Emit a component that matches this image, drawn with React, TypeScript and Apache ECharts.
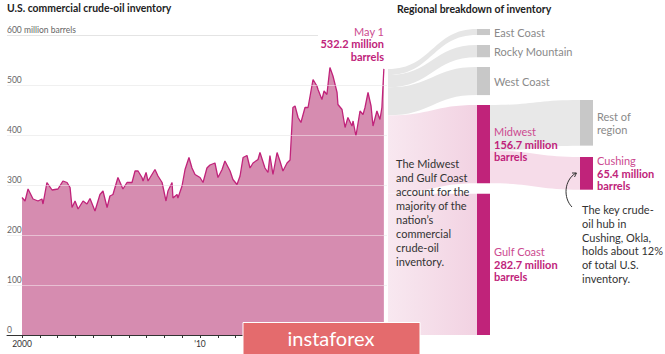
import React, { useEffect, useRef } from "react";
import * as echarts from "echarts";

// ---- Data ----
const years = [
  2000.0, 2000.17, 2000.34, 2000.62, 2000.9, 2001.12, 2001.18, 2001.4, 2001.69, 2002.02,
  2002.3, 2002.53, 2002.7, 2002.81, 2002.98, 2003.15, 2003.43, 2003.65, 2003.82, 2004.1,
  2004.38, 2004.55, 2004.78, 2004.94, 2005.11, 2005.39, 2005.67, 2005.9, 2006.18, 2006.35,
  2006.52, 2006.74, 2006.8, 2006.97, 2007.08, 2007.47, 2007.64, 2007.87, 2008.09, 2008.2,
  2008.43, 2008.48, 2008.71, 2008.76, 2008.99, 2009.16, 2009.38, 2009.55, 2009.72, 2010.0,
  2010.17, 2010.39, 2010.56, 2010.84, 2011.01, 2011.24, 2011.4, 2011.69, 2011.85, 2012.08,
  2012.25, 2012.42, 2012.64, 2012.81, 2012.98, 2013.26, 2013.37, 2013.65, 2013.82, 2013.93,
  2014.1, 2014.33, 2014.49, 2014.66, 2014.89, 2015.06, 2015.22, 2015.34, 2015.51, 2015.67,
  2015.9, 2016.07, 2016.35, 2016.57, 2016.63, 2016.85, 2016.97, 2017.13, 2017.3, 2017.47,
  2017.7, 2017.75, 2017.98, 2018.15, 2018.31, 2018.54, 2018.6, 2018.76, 2018.99, 2019.16,
  2019.27, 2019.44, 2019.61, 2019.72, 2019.94, 2020.11, 2020.22, 2020.33,
];
const inventory = [
  275, 268, 292, 272, 268, 272, 262, 305, 290, 292,
  308, 305, 295, 255, 268, 252, 268, 262, 273, 248,
  281, 288, 255, 278, 281, 315, 292, 305, 305, 328,
  328, 315, 308, 325, 308, 331, 318, 305, 268, 288,
  305, 274, 281, 274, 298, 331, 355, 334, 321, 315,
  305, 334, 340, 344, 315, 331, 348, 328, 311, 301,
  318, 355, 359, 334, 344, 351, 365, 334, 325, 359,
  321, 365, 348, 328, 344, 350, 455, 458, 435, 425,
  455, 455, 511, 498, 491, 471, 488, 481, 535, 518,
  485, 461, 451, 415, 435, 418, 428, 398, 448, 441,
  455, 485, 458, 418, 448, 431, 455, 532.2,
];
const yTicks = [0, 100, 200, 300, 400, 500, 600];
const xTickYears = [
  2000, 2001, 2002, 2003, 2004, 2005, 2006, 2007, 2008, 2009, 2010,
  2011, 2012, 2013, 2014, 2015, 2016, 2017, 2018, 2019, 2020,
];
const xLabelYears = [2000, 2010];

const totalName = "U.S.";
const regionNames = ["East Coast", "Rocky Mountain", "West Coast", "Midwest", "Gulf Coast"];
const regionValues = [12.1, 24.5, 56.2, 156.7, 282.7];
const midwestNames = ["Rest of region", "Cushing"];
const midwestValues = [91.3, 65.4];

const FONT = "Lato";
const MAGENTA = "#c0237a";
const PINK_TEXT = "#cc4a90";
const GRAY_NODE = "#c8c8c8";
const GRAY_FLOW = "#e6e6e6";

export default function App() {
  const ref = useRef<HTMLDivElement>(null);

  useEffect(() => {
    if (!ref.current) return;
    const chart = echarts.init(ref.current, undefined, { renderer: "svg" });

    const H = 306;
    const W = 218;
    const pos: Record<string, [number, number]> = {
      [totalName]: [0, 40],
      "East Coast": [102, 0],
      "Rocky Mountain": [102, 16],
      "West Coast": [102, 38],
      Midwest: [102, 76],
      "Gulf Coast": [102, 164.7],
      "Rest of region": [205, 71],
      Cushing: [205, 128],
    };
    const magentaNodes = ["Midwest", "Gulf Coast", "Cushing"];
    const richLabel = {
      n: { color: PINK_TEXT, fontSize: 11, fontFamily: FONT, lineHeight: 12.5 },
      v: { color: MAGENTA, fontSize: 11, fontWeight: "bold", fontFamily: FONT, lineHeight: 12.5 },
      g: { color: "#8a8a8a", fontSize: 11, fontFamily: FONT, lineHeight: 12.5 },
    };
    const labelFor = (name: string, value: number) => {
      if (magentaNodes.includes(name)) {
        return `{n|${name}}\n{v|${value} million}\n{v|barrels}`;
      }
      if (name === "Rest of region") return "{g|Rest of}\n{g|region}";
      return `{g|${name}}`;
    };

    const nodes: any[] = [];
    nodes.push({
      name: totalName,
      depth: 0,
      localX: pos[totalName][0] / W,
      localY: pos[totalName][1] / H,
      itemStyle: { color: "rgba(0,0,0,0)", borderWidth: 0 },
      label: { show: false },
    });
    regionNames.forEach((n, i) => {
      nodes.push({
        name: n,
        depth: 1,
        localX: pos[n][0] / W,
        localY: pos[n][1] / H,
        itemStyle: { color: magentaNodes.includes(n) ? MAGENTA : GRAY_NODE, borderWidth: 0 },
        label: { formatter: labelFor(n, regionValues[i]) },
      });
    });
    midwestNames.forEach((n, i) => {
      nodes.push({
        name: n,
        depth: 2,
        localX: pos[n][0] / W,
        localY: pos[n][1] / H,
        itemStyle: { color: magentaNodes.includes(n) ? MAGENTA : GRAY_NODE, borderWidth: 0 },
        label: { formatter: labelFor(n, midwestValues[i]) },
      });
    });

    const pinkGrad = new echarts.graphic.LinearGradient(0, 0, 1, 0, [
      { offset: 0, color: "#f8e8f0" },
      { offset: 1, color: "#f2d2e2" },
    ]);
    const links: any[] = [];
    regionNames.forEach((n, i) => {
      links.push({
        source: totalName,
        target: n,
        value: regionValues[i],
        lineStyle: { color: magentaNodes.includes(n) ? pinkGrad : GRAY_FLOW, opacity: 1 },
      });
    });
    midwestNames.forEach((n, i) => {
      links.push({
        source: "Midwest",
        target: n,
        value: midwestValues[i],
        lineStyle: { color: n === "Cushing" ? "#f6dce9" : "#e8e8e8", opacity: 1 },
      });
    });

    const seriesData = years.map((y, i) => [y, inventory[i]]);

    const option: any = {
      animation: false,
      textStyle: { fontFamily: FONT },
      grid: { left: 7, right: 278, top: 35, bottom: 19, containLabel: false },
      xAxis: {
        type: "value",
        min: 1999.157,
        max: 2020.506,
        splitLine: { show: false },
        axisLine: { show: true, lineStyle: { color: "#333", width: 1 } },
        axisTick: {
          show: true,
          customValues: xTickYears,
          length: 3,
          lineStyle: { color: "#333" },
        },
        axisLabel: {
          customValues: xLabelYears,
          formatter: (v: number) => (v === 2000 ? "2000" : "'" + String(v).slice(2)),
          fontSize: 8.5,
          color: "#333",
          margin: 4,
          fontFamily: FONT,
        },
      },
      yAxis: {
        type: "value",
        min: 0,
        max: 600,
        interval: 100,
        axisLine: { show: false },
        axisTick: { show: false },
        splitLine: { show: true, lineStyle: { color: "#e4e4e4", width: 1 } },
        axisLabel: {
          inside: true,
          margin: 0,
          verticalAlign: "bottom",
          padding: [0, 0, 1, 0],
          fontSize: 8.5,
          color: "#666",
          fontFamily: FONT,
          formatter: (v: number) => (v === yTicks[yTicks.length - 1] ? `${v} million barrels` : `${v}`),
        },
      },
      series: [
        {
          type: "line",
          data: seriesData,
          showSymbol: false,
          symbol: "none",
          lineStyle: { color: MAGENTA, width: 1.3 },
          areaStyle: { color: "#d68cb0", opacity: 1 },
          z: 2,
          silent: true,
          markLine: {
            silent: true,
            symbol: "none",
            label: { show: false },
            lineStyle: { color: "rgba(255,255,255,0.45)", width: 1, type: "solid" },
            data: yTicks.slice(1, 6).map((v) => ({ yAxis: v })),
          },
        },
        {
          type: "sankey",
          left: 375,
          top: 29,
          width: W,
          height: H,
          nodeWidth: 13,
          nodeGap: 10,
          nodeAlign: "left",
          layoutIterations: 0,
          draggable: false,
          silent: true,
          emphasis: { disabled: true },
          lineStyle: { opacity: 1, curveness: 0.5 },
          label: {
            position: "right",
            distance: 4,
            fontFamily: FONT,
            fontSize: 11,
            color: "#8a8a8a",
            rich: richLabel,
          },
          data: nodes,
          links: links,
        },
      ],
      graphic: [
        {
          type: "text",
          left: 7,
          top: 3,
          z: 50,
          style: { text: "U.S. commercial crude-oil inventory", fontSize: 10.4, fontWeight: "bold", fill: "#222", fontFamily: FONT },
        },
        {
          type: "text",
          left: 397,
          top: 3,
          z: 50,
          style: { text: "Regional breakdown of inventory", fontSize: 10.5, fontWeight: "bold", fill: "#222", fontFamily: FONT },
        },
        {
          type: "rect",
          z: 50,
          shape: { x: 318, y: 32, width: 70, height: 6 },
          style: { fill: "#fff" },
        },
        {
          type: "text",
          x: 384,
          y: 25,
          z: 51,
          style: {
            text: "{a|May 1}\n{b|532.2 million}\n{b|barrels}",
            align: "right",
            verticalAlign: "top",
            rich: {
              a: { fontSize: 11, fill: PINK_TEXT, color: PINK_TEXT, fontFamily: FONT, lineHeight: 12.5, align: "right" },
              b: { fontSize: 11, fontWeight: "bold", fill: MAGENTA, color: MAGENTA, fontFamily: FONT, lineHeight: 12.5, align: "right" },
            },
          },
        },
        {
          type: "text",
          x: 396,
          y: 156,
          z: 50,
          style: {
            text: "The Midwest\nand Gulf Coast\naccount for the\nmajority of the\nnation\u2019s\ncommercial\ncrude-oil\ninventory.",
            fontSize: 11,
            lineHeight: 14,
            fill: "#333",
            fontFamily: FONT,
            verticalAlign: "top",
          },
        },
        {
          type: "text",
          x: 582,
          y: 203,
          z: 50,
          style: {
            text: "The key crude-\noil hub in\nCushing, Okla,\nholds about 12%\nof total U.S.\ninventory.",
            fontSize: 11,
            lineHeight: 13.7,
            fill: "#333",
            fontFamily: FONT,
            verticalAlign: "top",
          },
        },
        {
          type: "bezierCurve",
          z: 50,
          shape: { x1: 572, y1: 207, x2: 576, y2: 173, cpx1: 563, cpy1: 198, cpx2: 564, cpy2: 180 },
          style: { stroke: "#333", lineWidth: 1, fill: "none" },
        },
        {
          type: "polyline",
          z: 50,
          shape: { points: [[572, 173], [576.5, 173], [574.5, 177]] },
          style: { stroke: "#333", lineWidth: 1, fill: "none" },
        },
        {
          type: "rect",
          z: 60,
          shape: { x: 243, y: 322.5, width: 177, height: 32 },
          style: { fill: "#e46b6d", stroke: "#ffffff", lineWidth: 1 },
        },
        {
          type: "text",
          x: 331,
          y: 338,
          z: 61,
          style: {
            text: "instaforex",
            fontSize: 20,
            fill: "#ffffff",
            fontFamily: FONT,
            align: "center",
            verticalAlign: "middle",
          },
        },
      ],
    };

    chart.setOption(option);
    return () => chart.dispose();
  }, []);

  return (
    <div
      ref={ref}
      style={{ position: "fixed", left: 0, top: 0, width: 665, height: 354, background: "#fff" }}
    />
  );
}
